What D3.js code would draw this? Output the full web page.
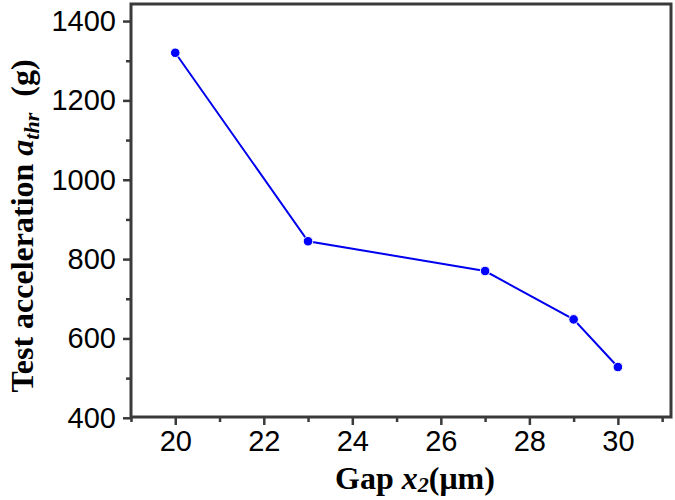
<!DOCTYPE html>
<html><head><meta charset="utf-8">
<script src="https://cdn.jsdelivr.net/npm/d3@7"></script>
<style>body{margin:0;background:#fff}</style>
</head><body>
<script>
const gapValues = [20, 23, 27, 29, 30];
const accelValues = [1320, 845, 770, 648, 528];
const xMajorTicks = [20, 22, 24, 26, 28, 30];
const xMinorTicks = [19, 21, 23, 25, 27, 29, 31];
const yMajorTicks = [400, 600, 800, 1000, 1200, 1400];
const yMinorTicks = [500, 700, 900, 1100, 1300];

const W = 675, H = 500;
const L = 131, R = 671, T = 4, B = 417;
const svg = d3.select("body").append("svg").attr("width", W).attr("height", H);

const x = d3.scaleLinear().domain([19, 31.2]).range([L, R]);
const y = d3.scaleLinear().domain([402, 1443]).range([B, T]);

const frameColor = "#3a3a3a";
const tickFont = "'Liberation Sans', Arial, sans-serif";

function styleAxis(g) {
  g.select(".domain").remove();
  g.selectAll(".tick line").attr("stroke", frameColor).attr("stroke-width", 2.5);
  g.selectAll(".tick text").attr("font-family", tickFont).attr("font-size", 29).attr("fill", "#000");
}

svg.append("g").attr("transform", `translate(0,${B})`)
  .call(d3.axisBottom(x).tickValues(xMajorTicks).tickSize(8).tickPadding(5).tickFormat(d3.format("d")))
  .call(styleAxis);
svg.append("g").attr("transform", `translate(0,${B})`)
  .call(d3.axisBottom(x).tickValues(xMinorTicks).tickSize(5).tickFormat(""))
  .call(styleAxis);
svg.append("g").attr("transform", `translate(${L},0)`)
  .call(d3.axisLeft(y).tickValues(yMajorTicks).tickSize(8).tickPadding(7).tickFormat(d3.format("d")))
  .call(styleAxis);
svg.append("g").attr("transform", `translate(${L},0)`)
  .call(d3.axisLeft(y).tickValues(yMinorTicks).tickSize(5).tickFormat(""))
  .call(styleAxis);

svg.append("rect").attr("x", L).attr("y", T).attr("width", R - L).attr("height", B - T)
  .attr("fill", "none").attr("stroke", frameColor).attr("stroke-width", 3);

const data = gapValues.map((g, i) => ({g, a: accelValues[i]}));
svg.append("path").datum(data)
  .attr("d", d3.line().x(d => x(d.g)).y(d => y(d.a)))
  .attr("fill", "none").attr("stroke", "#0000ee").attr("stroke-width", 2);
svg.selectAll("circle.pt").data(data).enter().append("circle")
  .attr("cx", d => x(d.g)).attr("cy", d => y(d.a)).attr("r", 4.8)
  .attr("fill", "#0000ff").attr("stroke", "#fff").attr("stroke-width", 1);

const titleFont = "'Liberation Serif', 'Times New Roman', serif";
const xt = svg.append("text").attr("x", 415).attr("y", 489).attr("text-anchor", "middle")
  .attr("font-family", titleFont).attr("font-weight", "bold").attr("font-size", 32).attr("fill", "#000");
xt.append("tspan").text("Gap ");
xt.append("tspan").attr("font-style", "italic").text("x");
xt.append("tspan").attr("font-style", "italic").attr("font-size", 22).attr("dy", 3).text("2");
xt.append("tspan").attr("dy", -3).text("(μm)");

const yt = svg.append("text").attr("transform", "translate(33,226) rotate(-90)").attr("text-anchor", "middle")
  .attr("font-family", titleFont).attr("font-weight", "bold").attr("font-size", 32).attr("fill", "#000");
yt.append("tspan").text("Test acceleration ");
yt.append("tspan").attr("font-style", "italic").text("a");
yt.append("tspan").attr("font-style", "italic").attr("font-size", 22).attr("dy", 6).text("thr");
yt.append("tspan").attr("dy", -6).text("\u00a0\u00a0(g)");
</script>
</body></html>
